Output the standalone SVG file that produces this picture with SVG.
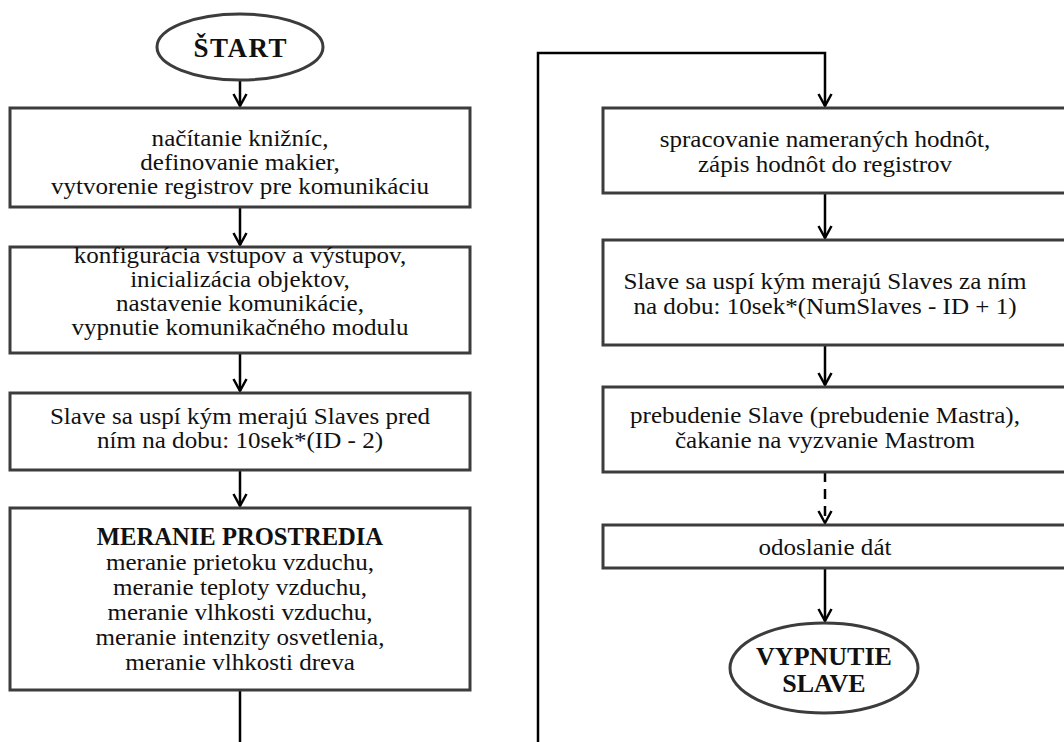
<svg xmlns="http://www.w3.org/2000/svg" width="1064" height="742" viewBox="0 0 1064 742">
<style>
.box{fill:#fff;stroke:#3c3c3c;stroke-width:3}
.t{font-family:"Liberation Serif","Times New Roman",serif;font-size:22.5px;fill:#111;text-anchor:middle}
.b{font-weight:bold;font-size:26px}
.c{fill:none;stroke:#000;stroke-width:2.5}
.d{stroke-dasharray:10 7}
</style>
<defs>
<marker id="ah" markerUnits="userSpaceOnUse" markerWidth="20" markerHeight="20" viewBox="-14 -10 18 20" refX="0" refY="0" orient="auto">
<path d="M-12,-6.5 L0,0 L-12,6.5" fill="none" stroke="#000" stroke-width="2.5"/>
</marker>
</defs>
<rect width="1064" height="742" fill="#fff"/>
<g id="connectors">
<path class="c" d="M240,80 V106" marker-end="url(#ah)"/>
<path class="c" d="M240,207 V245" marker-end="url(#ah)"/>
<path class="c" d="M240,353 V391" marker-end="url(#ah)"/>
<path class="c" d="M240,470 V506" marker-end="url(#ah)"/>
<path class="c" d="M240,690 V742"/>
<path class="c" d="M538,742 V53 H825 V106" marker-end="url(#ah)"/>
<path class="c" d="M825,193 V238" marker-end="url(#ah)"/>
<path class="c" d="M825,345 V385" marker-end="url(#ah)"/>
<path class="c d" d="M825,472 V523" marker-end="url(#ah)"/>
<path class="c" d="M825,568 V621" marker-end="url(#ah)"/>
</g>
<g id="start">
<ellipse class="box" cx="240" cy="47" rx="83" ry="33"/>
<text class="t b" x="240.8" y="57" style="font-size:27px;letter-spacing:1.5px">ŠTART</text>
</g>
<g id="init">
<rect class="box" x="10" y="108" width="460" height="99"/>
<g transform="translate(240,0) scale(1.115,1)">
<text class="t" x="0" y="146">načítanie knižníc,</text>
<text class="t" x="0" y="170">definovanie makier,</text>
<text class="t" x="0" y="194">vytvorenie registrov pre komunikáciu</text>
</g>
</g>
<g id="config">
<rect class="box" x="10" y="247" width="460" height="106"/>
<g transform="translate(240,0) scale(1.115,1)">
<text class="t" x="0" y="263">konfigurácia vstupov a výstupov,</text>
<text class="t" x="0" y="287">inicializácia objektov,</text>
<text class="t" x="0" y="311">nastavenie komunikácie,</text>
<text class="t" x="0" y="335">vypnutie komunikačného modulu</text>
</g>
</g>
<g id="sleep1">
<rect class="box" x="10" y="393" width="460" height="77"/>
<g transform="translate(240,0) scale(1.115,1)">
<text class="t" x="0" y="424">Slave sa uspí kým merajú Slaves pred</text>
<text class="t" x="0" y="448">ním na dobu: 10sek*(ID - 2)</text>
</g>
</g>
<g id="measure">
<rect class="box" x="10" y="508" width="460" height="182"/>
<text class="t b" x="240" y="545" style="font-size:24.6px">MERANIE PROSTREDIA</text>
<g transform="translate(240,0) scale(1.115,1)">
<text class="t" x="0" y="570">meranie prietoku vzduchu,</text>
<text class="t" x="0" y="595">meranie teploty vzduchu,</text>
<text class="t" x="0" y="620">meranie vlhkosti vzduchu,</text>
<text class="t" x="0" y="645">meranie intenzity osvetlenia,</text>
<text class="t" x="0" y="670">meranie vlhkosti dreva</text>
</g>
</g>
<g id="process">
<rect class="box" x="603" y="108" width="470" height="85"/>
<g transform="translate(825,0) scale(1.115,1)">
<text class="t" x="0" y="147">spracovanie nameraných hodnôt,</text>
<text class="t" x="0" y="172">zápis hodnôt do registrov</text>
</g>
</g>
<g id="sleep2">
<rect class="box" x="603" y="240" width="470" height="105"/>
<g transform="translate(825,0) scale(1.115,1)">
<text class="t" x="0" y="289">Slave sa uspí kým merajú Slaves za ním</text>
<text class="t" x="0" y="314">na dobu: 10sek*(NumSlaves - ID + 1)</text>
</g>
</g>
<g id="wake">
<rect class="box" x="603" y="387" width="470" height="85"/>
<g transform="translate(825,0) scale(1.115,1)">
<text class="t" x="0" y="423">prebudenie Slave (prebudenie Mastra),</text>
<text class="t" x="0" y="448">čakanie na vyzvanie Mastrom</text>
</g>
</g>
<g id="send">
<rect class="box" x="603" y="525" width="470" height="43"/>
<g transform="translate(825,0) scale(1.115,1)">
<text class="t" x="0" y="555">odoslanie dát</text>
</g>
</g>
<g id="end">
<ellipse class="box" cx="824" cy="668" rx="94" ry="45"/>
<text class="t b" x="824" y="665">VYPNUTIE</text>
<text class="t b" x="824" y="692">SLAVE</text>
</g>
</svg>
